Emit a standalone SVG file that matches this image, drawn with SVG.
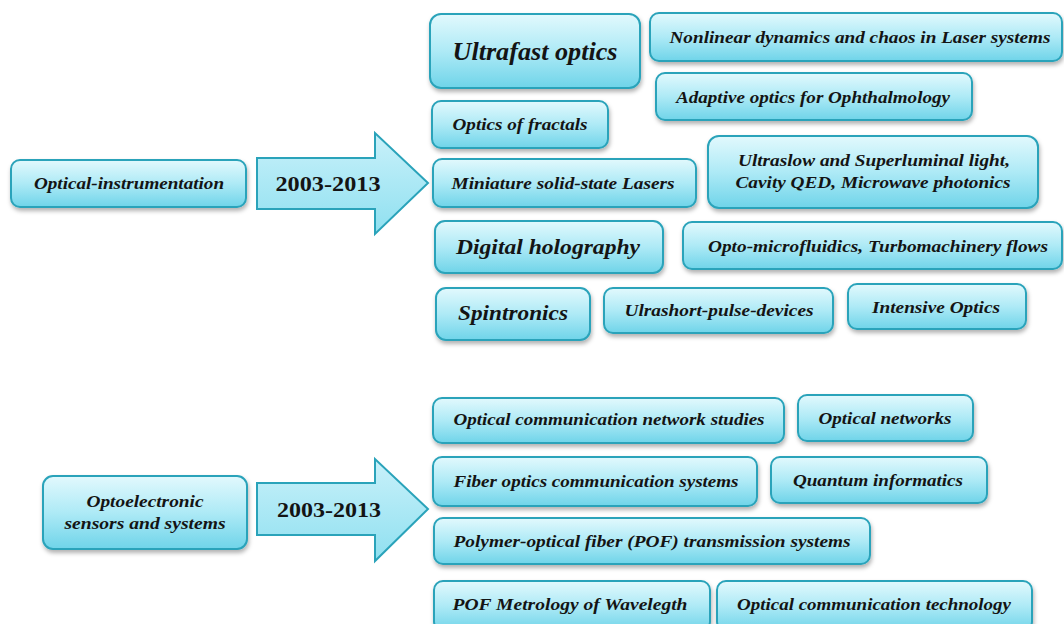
<svg xmlns="http://www.w3.org/2000/svg" width="1064" height="624" viewBox="0 0 1064 624">
  <defs>
    <linearGradient id="boxFill" x1="0" y1="0" x2="0" y2="1">
      <stop offset="0" stop-color="#e2f9fd"/>
      <stop offset="0.5" stop-color="#aeeaf6"/>
      <stop offset="1" stop-color="#6fd4e9"/>
    </linearGradient>
    <linearGradient id="arrowFill" x1="0" y1="0" x2="0" y2="1">
      <stop offset="0" stop-color="#c9f1fa"/>
      <stop offset="1" stop-color="#8fe0f0"/>
    </linearGradient>
    <filter id="shadow" x="-10%" y="-20%" width="120%" height="150%">
      <feDropShadow dx="1" dy="3" stdDeviation="2" flood-color="#000" flood-opacity="0.3"/>
    </filter>
  </defs>
  <style>
    .box { fill: url(#boxFill); stroke: #2aa3ba; stroke-width: 2; filter: url(#shadow); }
    .arrow { fill: url(#arrowFill); stroke: #2aa3ba; stroke-width: 2; }
    .lbl { font-family: "Liberation Serif", "Times New Roman", serif; font-weight: bold; font-style: italic; font-size: 16px; fill: #141414; text-anchor: middle; }
    .big { font-size: 25px; }
    .mid { font-size: 21px; }
    .year { font-family: "Liberation Serif", "Times New Roman", serif; font-weight: bold; font-size: 21px; fill: #141414; text-anchor: middle; }
  </style>
  <rect width="1064" height="624" fill="#ffffff"/>

  <!-- connectors: block arrows carrying the period label -->
  <g id="connectors">
    <path class="arrow" d="M257,158 H375 V133 L428,183 L375,234 V209 H257 Z"/>
    <path class="arrow" d="M257,483 H375 V459 L428,509 L375,561 V535 H257 Z"/>
    <text class="year" x="328" y="191" textLength="105" lengthAdjust="spacingAndGlyphs">2003-2013</text>
    <text class="year" x="329" y="517" textLength="104" lengthAdjust="spacingAndGlyphs">2003-2013</text>
  </g>

  <!-- source areas -->
  <g id="optical-instrumentation">
    <rect class="box" x="11" y="160" width="235" height="47" rx="9"/>
    <text class="lbl" x="129" y="189" textLength="190" lengthAdjust="spacingAndGlyphs">Optical-instrumentation</text>
  </g>
  <g id="optoelectronic">
    <rect class="box" x="43" y="476" width="204" height="73" rx="10"/>
    <text class="lbl" x="145" y="507" textLength="117" lengthAdjust="spacingAndGlyphs">Optoelectronic</text>
    <text class="lbl" x="145" y="529" textLength="161" lengthAdjust="spacingAndGlyphs">sensors and systems</text>
  </g>

  <!-- topics, upper group -->
  <g id="ultrafast-optics">
    <rect class="box" x="430" y="14" width="210" height="74" rx="11"/>
    <text class="lbl big" x="535" y="60" textLength="165" lengthAdjust="spacingAndGlyphs">Ultrafast optics</text>
  </g>
  <g id="nonlinear-dynamics">
    <rect class="box" x="650" y="13" width="412" height="48" rx="9"/>
    <text class="lbl" x="860" y="43" textLength="381" lengthAdjust="spacingAndGlyphs">Nonlinear dynamics and chaos in Laser systems</text>
  </g>
  <g id="adaptive-optics">
    <rect class="box" x="656" y="73" width="316" height="47" rx="9"/>
    <text class="lbl" x="813" y="103" textLength="274" lengthAdjust="spacingAndGlyphs">Adaptive optics for Ophthalmology</text>
  </g>
  <g id="optics-of-fractals">
    <rect class="box" x="432" y="101" width="176" height="47" rx="9"/>
    <text class="lbl" x="520" y="130" textLength="135" lengthAdjust="spacingAndGlyphs">Optics of fractals</text>
  </g>
  <g id="miniature-lasers">
    <rect class="box" x="433" y="159" width="263" height="48" rx="9"/>
    <text class="lbl" x="563" y="189" textLength="223" lengthAdjust="spacingAndGlyphs">Miniature solid-state Lasers</text>
  </g>
  <g id="ultraslow-light">
    <rect class="box" x="708" y="136" width="330" height="72" rx="11"/>
    <text class="lbl" x="874" y="166" textLength="272" lengthAdjust="spacingAndGlyphs">Ultraslow and Superluminal light,</text>
    <text class="lbl" x="873" y="188" textLength="275" lengthAdjust="spacingAndGlyphs">Cavity QED, Microwave photonics</text>
  </g>
  <g id="digital-holography">
    <rect class="box" x="435" y="221" width="228" height="52" rx="10"/>
    <text class="lbl mid" x="548" y="254" textLength="184" lengthAdjust="spacingAndGlyphs">Digital holography</text>
  </g>
  <g id="opto-microfluidics">
    <rect class="box" x="683" y="222" width="379" height="47" rx="9"/>
    <text class="lbl" x="878" y="252" textLength="340" lengthAdjust="spacingAndGlyphs">Opto-microfluidics, Turbomachinery flows</text>
  </g>
  <g id="spintronics">
    <rect class="box" x="436" y="288" width="154" height="52" rx="10"/>
    <text class="lbl mid" x="513" y="320" textLength="110" lengthAdjust="spacingAndGlyphs">Spintronics</text>
  </g>
  <g id="ultrashort-pulse">
    <rect class="box" x="604" y="288" width="229" height="45" rx="9"/>
    <text class="lbl" x="719" y="316" textLength="189" lengthAdjust="spacingAndGlyphs">Ulrashort-pulse-devices</text>
  </g>
  <g id="intensive-optics">
    <rect class="box" x="848" y="284" width="178" height="45" rx="9"/>
    <text class="lbl" x="936" y="313" textLength="128" lengthAdjust="spacingAndGlyphs">Intensive Optics</text>
  </g>

  <!-- topics, lower group -->
  <g id="network-studies">
    <rect class="box" x="433" y="398" width="351" height="45" rx="9"/>
    <text class="lbl" x="609" y="425" textLength="311" lengthAdjust="spacingAndGlyphs">Optical communication network studies</text>
  </g>
  <g id="optical-networks">
    <rect class="box" x="798" y="395" width="175" height="46" rx="9"/>
    <text class="lbl" x="885" y="424" textLength="133" lengthAdjust="spacingAndGlyphs">Optical networks</text>
  </g>
  <g id="fiber-optics">
    <rect class="box" x="433" y="457" width="324" height="49" rx="9"/>
    <text class="lbl" x="596" y="487" textLength="285" lengthAdjust="spacingAndGlyphs">Fiber optics communication systems</text>
  </g>
  <g id="quantum-informatics">
    <rect class="box" x="771" y="457" width="216" height="46" rx="9"/>
    <text class="lbl" x="878" y="486" textLength="170" lengthAdjust="spacingAndGlyphs">Quantum  informatics</text>
  </g>
  <g id="polymer-fiber">
    <rect class="box" x="434" y="518" width="436" height="46" rx="9"/>
    <text class="lbl" x="652" y="547" textLength="397" lengthAdjust="spacingAndGlyphs">Polymer-optical fiber (POF) transmission systems</text>
  </g>
  <g id="pof-metrology">
    <rect class="box" x="434" y="581" width="276" height="50" rx="9"/>
    <text class="lbl" x="570" y="610" textLength="235" lengthAdjust="spacingAndGlyphs">POF Metrology of Wavelegth</text>
  </g>
  <g id="optical-comm-technology">
    <rect class="box" x="717" y="581" width="315" height="50" rx="9"/>
    <text class="lbl" x="874" y="610" textLength="274" lengthAdjust="spacingAndGlyphs">Optical communication technology</text>
  </g>
</svg>
